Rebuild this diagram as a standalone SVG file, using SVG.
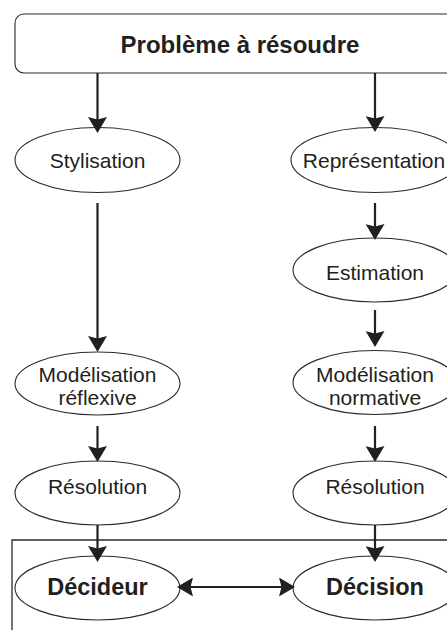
<svg xmlns="http://www.w3.org/2000/svg" width="447" height="630" viewBox="0 0 447 630">
<defs>
<style>
.n{fill:#fff;stroke:#2a2a2a;stroke-width:1.1}
.t{font-family:"Liberation Sans",Arial,sans-serif;font-size:21px;fill:#231f20;text-anchor:middle}
.b{font-weight:bold}
.c{stroke:#231f20;stroke-width:2.2;fill:none}
</style>
<marker id="ah" viewBox="0 0 16 19" refX="12" refY="9.5" markerWidth="16" markerHeight="19" markerUnits="userSpaceOnUse" orient="auto-start-reverse">
<path d="M0,0 L16,9.5 L0,19 L2.5,9.5 z" fill="#231f20"/>
</marker>
</defs>
<rect width="447" height="630" fill="#fff"/>
<g id="frame"><path d="M12,632 V540 H450" fill="none" stroke="#2a2a2a" stroke-width="1.3"/></g>
<g id="probleme"><rect class="n" x="15" y="14" width="445" height="59" rx="9"/><text class="t b" x="240" y="53" style="font-size:24px">Problème à résoudre</text></g>
<g id="stylisation"><ellipse class="n" cx="97.5" cy="160" rx="82.5" ry="32.5"/><text class="t" x="97.5" y="167.5">Stylisation</text></g>
<g id="representation"><ellipse class="n" cx="375" cy="160" rx="84" ry="32.5"/><text class="t" x="374" y="167.5">Représentation</text></g>
<g id="estimation"><ellipse class="n" cx="375" cy="270" rx="82" ry="32"/><text class="t" x="375" y="280">Estimation</text></g>
<g id="modelisation-reflexive"><ellipse class="n" cx="97.5" cy="383.5" rx="82.5" ry="31.5"/><text class="t" x="97.5" y="382">Modélisation</text><text class="t" x="97.5" y="405">réflexive</text></g>
<g id="modelisation-normative"><ellipse class="n" cx="375" cy="382.5" rx="82" ry="32"/><text class="t" x="375" y="382">Modélisation</text><text class="t" x="375" y="405">normative</text></g>
<g id="resolution-gauche"><ellipse class="n" cx="97.5" cy="493" rx="82.5" ry="32"/><text class="t" x="97.5" y="494">Résolution</text></g>
<g id="resolution-droite"><ellipse class="n" cx="375" cy="493" rx="82" ry="32"/><text class="t" x="375" y="494">Résolution</text></g>
<g id="decideur"><ellipse class="n" cx="97.5" cy="588" rx="82.5" ry="32"/><text class="t b" x="97.5" y="595" style="font-size:23.5px">Décideur</text></g>
<g id="decision"><ellipse class="n" cx="375" cy="588" rx="82" ry="32"/><text class="t b" x="375" y="595" style="font-size:23.5px">Décision</text></g>
<g id="connectors">
<path class="c" d="M97.5,73 V129" marker-end="url(#ah)"/>
<path class="c" d="M375,73 V128" marker-end="url(#ah)"/>
<path class="c" d="M97.5,203 V348" marker-end="url(#ah)"/>
<path class="c" d="M375,203 V236" marker-end="url(#ah)"/>
<path class="c" d="M375,310 V343" marker-end="url(#ah)"/>
<path class="c" d="M97.5,426 V458" marker-end="url(#ah)"/>
<path class="c" d="M375,426 V458" marker-end="url(#ah)"/>
<path class="c" d="M97.5,525 V558" marker-end="url(#ah)"/>
<path class="c" d="M375,525 V558" marker-end="url(#ah)"/>
<path class="c" d="M181,587 H291" marker-start="url(#ah)" marker-end="url(#ah)"/>
</g>
</svg>
